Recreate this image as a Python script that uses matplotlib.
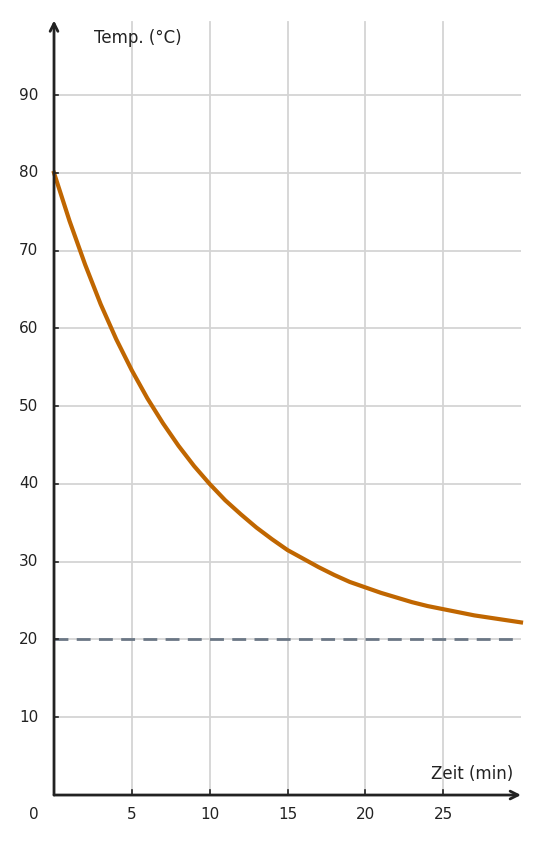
import matplotlib
matplotlib.use("Agg")
import matplotlib.pyplot as plt

# readings from the cooling curve
zeit = [0, 1, 2, 3, 4, 5, 6, 7, 8, 9, 10, 11, 12, 13, 14, 15,
        16, 17, 18, 19, 20, 21, 22, 23, 24, 25, 26, 27, 28, 29, 30]
temp = [80, 73.8, 68.2, 63.1, 58.6, 54.6, 51.0, 47.8, 44.9, 42.3, 40.0,
        37.9, 36.1, 34.4, 32.9, 31.5, 30.4, 29.3, 28.3, 27.4, 26.7,
        26.0, 25.4, 24.8, 24.3, 23.9, 23.5, 23.1, 22.8, 22.5, 22.2]
raumtemp = 20
xticks = [5, 10, 15, 20, 25]
yticks = [10, 20, 30, 40, 50, 60, 70, 80, 90]

fig = plt.figure(figsize=(5.38, 8.43), dpi=100)
ax = fig.add_axes([0.1004, 0.0569, 0.868, 0.917])
ax.set_xlim(0, 30)
ax.set_ylim(0, 99.4)

for x in xticks:
    ax.axvline(x, color="#d4d4d4", lw=1.3, zorder=0, clip_on=False, ymax=1.0)
for y in yticks:
    ax.axhline(y, color="#d4d4d4", lw=1.3, zorder=0)

ax.axhline(raumtemp, color="#6b7785", lw=2, ls=(0, (5, 3)), zorder=1)
ax.plot(zeit, temp, color="#c06600", lw=3, zorder=2, clip_on=False)

for s in ax.spines.values():
    s.set_visible(False)
ax.set_xticks([])
ax.set_yticks([])

tc = "#222222"
ax.annotate("", xy=(30, 0), xytext=(0, 0),
            arrowprops=dict(arrowstyle="->", color=tc, lw=2, mutation_scale=14,
                            shrinkA=0, shrinkB=0), annotation_clip=False)
ax.annotate("", xy=(0, 99.6), xytext=(0, 0),
            arrowprops=dict(arrowstyle="->", color=tc, lw=2, mutation_scale=14,
                            shrinkA=0, shrinkB=0), annotation_clip=False)

for x in xticks:
    ax.plot([x, x], [0, 0.6], color=tc, lw=1.2, clip_on=False)
    ax.text(x, -1.6, str(x), ha="center", va="top", fontsize=11, color=tc)
for y in yticks:
    ax.plot([0, 0.25], [y, y], color=tc, lw=1.2, clip_on=False)
    ax.text(-1.0, y, str(y), ha="right", va="center", fontsize=11, color=tc)
ax.text(-1.0, -1.6, "0", ha="right", va="top", fontsize=11, color=tc)

ax.text(2.6, 97.4, "Temp. (°C)", ha="left", va="center", fontsize=12, color=tc)
ax.text(29.5, 2.7, "Zeit (min)", ha="right", va="center", fontsize=12, color=tc)

fig.savefig("out.png", dpi=100)
